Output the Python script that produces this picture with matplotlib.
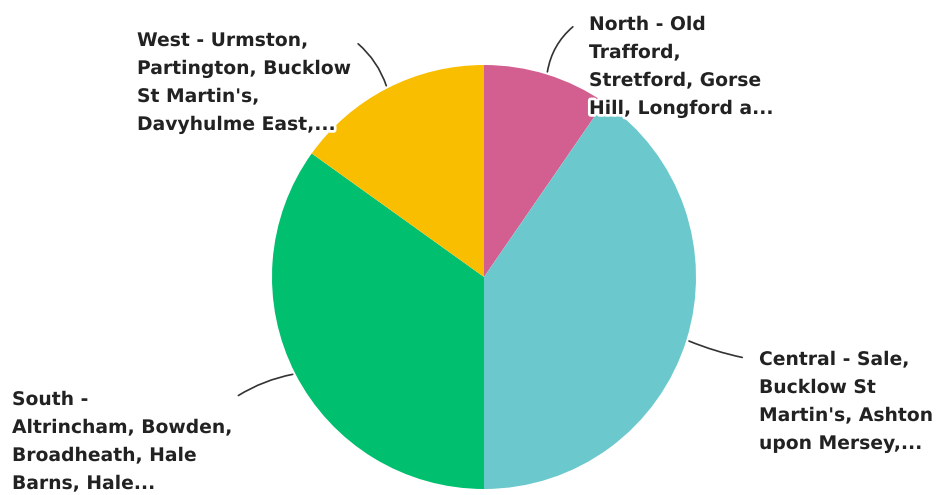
import numpy as np
import matplotlib.pyplot as plt
import matplotlib.patheffects as pe

labels = [
    "North - Old\nTrafford,\nStretford, Gorse\nHill, Longford a...",
    "Central - Sale,\nBucklow St\nMartin's, Ashton\nupon Mersey,...",
    "South -\nAltrincham, Bowden,\nBroadheath, Hale\nBarns, Hale...",
    "West - Urmston,\nPartington, Bucklow\nSt Martin's,\nDavyhulme East,...",
]
values = [9.6, 40.4, 34.9, 15.1]
colors = ["#D25F90", "#6BC8CD", "#00BF6F", "#F9BE00"]

W, H = 937, 495
fig = plt.figure(figsize=(W / 100, H / 100), dpi=100)
ax = fig.add_axes([0, 0, 1, 1])

cx, cy, r = 484, H - 277, 212
wedges, _ = ax.pie(values, colors=colors, startangle=90, counterclock=False,
                   center=(cx, cy), radius=r, frame=True,
                   wedgeprops=dict(linewidth=0))
ax.set_xlim(0, W)
ax.set_ylim(0, H)
ax.set_aspect("equal")
ax.axis("off")

# label anchor (top-left of text) and leader end, in pixel coords (y down)
text_pos = [(589, 15), (759, 350), (12, 390), (137, 31)]
line_end = [(575, 25), (745, 358), (236, 397), (356, 42)]
rads = [-0.2, 0.05, 0.1, 0.15]

for w, lab, (tx, ty), (lx, ly), rad in zip(wedges, labels, text_pos, line_end, rads):
    ang = np.deg2rad((w.theta1 + w.theta2) / 2)
    px, py = cx + r * np.cos(ang), cy + r * np.sin(ang)
    ax.annotate("", xy=(lx, H - ly), xytext=(px, py),
                arrowprops=dict(arrowstyle="-", color="#333333", lw=1.2,
                                connectionstyle=f"arc3,rad={rad}"))
    ax.text(tx, H - ty, lab, ha="left", va="top", fontsize=13.5,
            fontweight="bold", family="DejaVu Sans", color="#222222",
            linespacing=1.6,
            path_effects=[pe.withStroke(linewidth=4, foreground="white")])

fig.savefig("out.png", dpi=100)
